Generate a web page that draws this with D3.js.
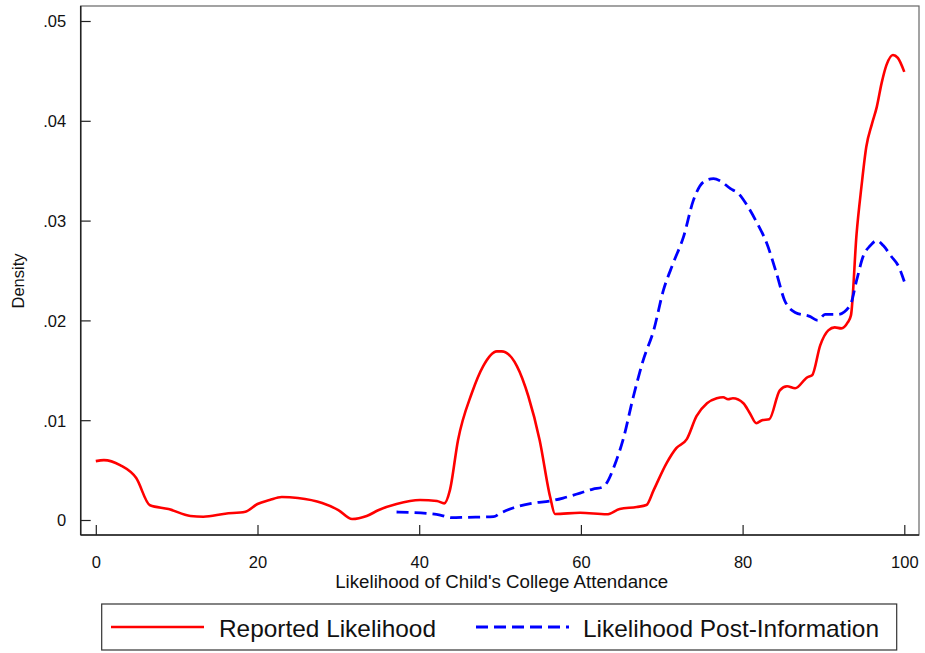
<!DOCTYPE html>
<html>
<head>
<meta charset="utf-8">
<script src="https://cdn.jsdelivr.net/npm/d3@7/dist/d3.min.js"></script>
<style>
  html, body { margin: 0; padding: 0; background: #fff; }
  svg { display: block; }
  text { font-family: Arial, "Liberation Sans", Helvetica, sans-serif; fill: #111; }
</style>
</head>
<body>
<svg id="chart" width="925" height="653"></svg>
<script>
// ---- Data ----
const reportedX = [0, 1, 3, 5, 6.7, 9, 11.7, 13.3, 16, 18.5, 20, 21.5, 23, 25, 28, 30, 31.7, 33.5, 35, 37.2, 40.1, 42.2, 43.1,
  43.8, 44.8, 46.5, 47.9, 49.6, 50.2, 52.1, 53.5, 54.9, 56.2, 56.8, 59.9, 63.2, 64.8, 66.9, 68.1, 69, 70.6, 71.8, 73.1, 74.3,
  75.6, 76.8, 77.6, 78.2, 78.8, 80.1, 80.9, 81.7, 82.4, 83.3, 84.6, 85.5, 86.5, 88, 88.6, 89.6, 90.6, 91.4, 92.2, 93, 93.4,
  94.1, 94.7, 95.3, 96, 96.6, 97.2, 97.8, 98.6, 99.2, 100];
const reportedY = [0.0059, 0.006, 0.0055, 0.0042, 0.00147, 0.0011, 0.0004, 0.00033, 0.00063, 0.00083, 0.0016, 0.002, 0.0023, 0.0022, 0.0017, 0.001, 0.0001, 0.0004, 0.001, 0.0016, 0.002, 0.0019, 0.00167,
  0.003, 0.008, 0.0127, 0.0154, 0.0169, 0.0169, 0.0154, 0.0124, 0.008, 0.0023, 0.0006, 0.00073, 0.00057, 0.0011, 0.0013, 0.0015, 0.003, 0.0057, 0.0072, 0.0081, 0.0104,
  0.0117, 0.0122, 0.0123, 0.0121, 0.0122, 0.0117, 0.0107, 0.0097, 0.01, 0.0101, 0.013, 0.0134, 0.0132, 0.0143, 0.0145, 0.0175, 0.019, 0.0193, 0.0192, 0.0198, 0.0205,
  0.0287, 0.0334, 0.0374, 0.0397, 0.0414, 0.0438, 0.0456, 0.0466, 0.0463, 0.0449];

const postInfoX = [37.2, 40.9, 42.6, 44, 45.9, 49.2, 50, 51.6, 54.1, 56.2, 57.8, 59.9, 61.5, 62.7, 64.4, 65.2, 66.5, 67.7, 69, 70.2,
  71.4, 72.7, 73.9, 75.2, 76.4, 77.2, 78.5, 79.5, 80.5, 81.7, 83, 84.2, 85.2, 86.5, 88.3, 89.3, 90.2, 91.8, 93.3,
  94.1, 94.9, 95.8, 96.6, 97.4, 98.4, 99.3, 100];
const postInfoY = [0.0008, 0.00067, 0.0005, 0.00023, 0.00027, 0.00033, 0.00067, 0.0012, 0.0017, 0.0019, 0.0022, 0.0027, 0.0031, 0.0033, 0.006, 0.008, 0.0124, 0.016, 0.019, 0.023,
  0.0257, 0.0284, 0.032, 0.0339, 0.0342, 0.034, 0.0332, 0.0327, 0.0316, 0.0299, 0.0277, 0.0247, 0.022, 0.0208, 0.0204, 0.02, 0.0206, 0.0206, 0.0215,
  0.024, 0.0264, 0.0275, 0.028, 0.0275, 0.0264, 0.0254, 0.0239];

const xTicks = [0, 20, 40, 60, 80, 100];
const yTicks = [0, 0.01, 0.02, 0.03, 0.04, 0.05];
const yTickLabels = ["0", ".01", ".02", ".03", ".04", ".05"];

const xTitle = "Likelihood of Child's College Attendance";
const yTitle = "Density";
const seriesNames = ["Reported Likelihood", "Likelihood Post-Information"];

// ---- Layout ----
const svg = d3.select("#chart");
const frame = { left: 80.7, right: 919, top: 6, bottom: 535 };

const x = d3.scaleLinear().domain([0, 100]).range([95.8, 904.3]);
const y = d3.scaleLinear().domain([0, 0.05]).range([520, 21]);

// frame (top/right in grey)
svg.append("rect")
  .attr("x", frame.left).attr("y", frame.top)
  .attr("width", frame.right - frame.left).attr("height", frame.bottom - frame.top)
  .attr("fill", "none").attr("stroke", "#666").attr("stroke-width", 1.2);

// left and bottom axis lines
svg.append("line").attr("x1", frame.left).attr("x2", frame.left)
  .attr("y1", frame.top).attr("y2", frame.bottom).attr("stroke", "#222").attr("stroke-width", 1.5);
svg.append("line").attr("x1", frame.left).attr("x2", frame.right)
  .attr("y1", frame.bottom).attr("y2", frame.bottom).attr("stroke", "#222").attr("stroke-width", 1.5);

// y axis (ticks inward)
const yAxis = d3.axisRight(y).tickValues(yTicks).tickSize(10).tickFormat("");
const gy = svg.append("g").attr("transform", `translate(${frame.left},0)`).call(yAxis);
gy.select(".domain").remove();
gy.selectAll(".tick line").attr("stroke", "#222").attr("stroke-width", 1.2);
gy.selectAll(".tick").append("text")
  .attr("x", -14.5).attr("dy", "0.36em")
  .attr("text-anchor", "end")
  .attr("font-size", 16.5)
  .style("fill", "#111")
  .text((d, i) => yTickLabels[i]);

// x axis (ticks inward)
const xAxis = d3.axisTop(x).tickValues(xTicks).tickSize(10).tickFormat("");
const gx = svg.append("g").attr("transform", `translate(0,${frame.bottom})`).call(xAxis);
gx.select(".domain").remove();
gx.selectAll(".tick line").attr("stroke", "#222").attr("stroke-width", 1.2);
gx.selectAll(".tick").append("text")
  .attr("y", 33).attr("text-anchor", "middle")
  .attr("font-size", 16.5)
  .style("fill", "#111")
  .text(d => d3.format("d")(d));

// axis titles
svg.append("text").attr("x", 501.7).attr("y", 587.5)
  .attr("text-anchor", "middle").attr("font-size", 17.5)
  .attr("textLength", 333).attr("lengthAdjust", "spacingAndGlyphs")
  .text(xTitle);
svg.append("text")
  .attr("transform", "translate(23.5,281) rotate(-90)")
  .attr("text-anchor", "middle").attr("font-size", 16.5).text(yTitle);

// lines
const reported = reportedX.map((d, i) => [d, reportedY[i]]);
const postInfo = postInfoX.map((d, i) => [d, postInfoY[i]]);
const line = d3.line().x(d => x(d[0])).y(d => y(d[1])).curve(d3.curveMonotoneX);

svg.append("path").datum(reported)
  .attr("d", line).attr("fill", "none")
  .attr("stroke", "#ff0000").attr("stroke-width", 2.6)
  .attr("stroke-linejoin", "round");

svg.append("path").datum(postInfo)
  .attr("d", line).attr("fill", "none")
  .attr("stroke", "#0000ff").attr("stroke-width", 2.8)
  .attr("stroke-dasharray", "12,6");

// legend
const lg = svg.append("g");
lg.append("rect").attr("x", 101.7).attr("y", 604).attr("width", 795).attr("height", 46)
  .attr("fill", "#fff").attr("stroke", "#333").attr("stroke-width", 1.2);
lg.append("line").attr("x1", 111).attr("x2", 204).attr("y1", 627).attr("y2", 627)
  .attr("stroke", "#ff0000").attr("stroke-width", 2.6);
lg.append("text").attr("x", 219).attr("y", 636.8).attr("font-size", 24)
  .attr("textLength", 217).attr("lengthAdjust", "spacingAndGlyphs").text(seriesNames[0]);
lg.append("line").attr("x1", 476).attr("x2", 569).attr("y1", 627).attr("y2", 627)
  .attr("stroke", "#0000ff").attr("stroke-width", 2.8).attr("stroke-dasharray", "12,6");
lg.append("text").attr("x", 583).attr("y", 636.8).attr("font-size", 24)
  .attr("textLength", 296).attr("lengthAdjust", "spacingAndGlyphs").text(seriesNames[1]);
</script>
</body>
</html>
